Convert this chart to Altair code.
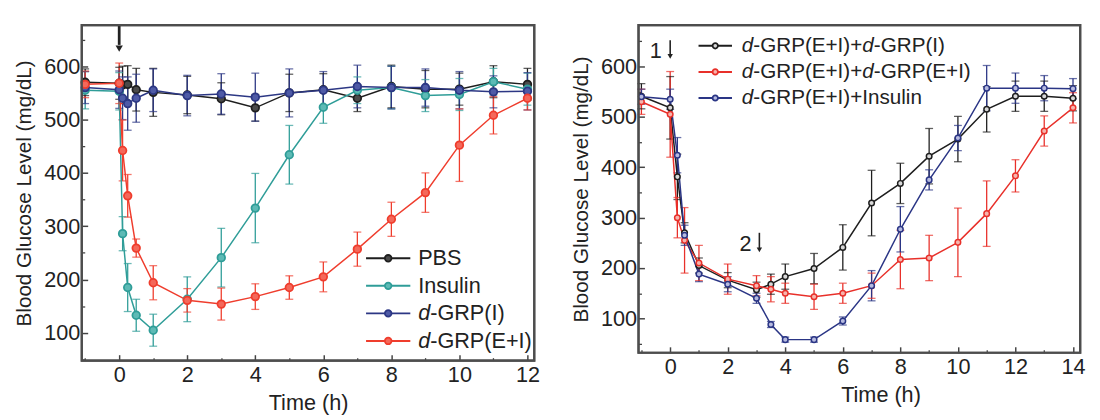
import altair as alt
import pandas as pd

FONT = "Liberation Sans"

# ---------------- Left panel data ----------------
t_left = [-1, 0, 0.1, 0.25, 0.5, 1, 2, 3, 4, 5, 6, 7, 8, 9, 10, 11, 12]
pbs = [570, 568, 565, 566, 556, 551, 546, 539, 522, 550, 556, 540, 562, 557, 557, 571, 566]
pbs_err = [25, 30, 35, 35, 40, 45, 35, 30, 25, 35, 30, 25, 40, 35, 30, 30, 30]
insulin = [555, 553, 286, 185, 133, 105, 163, 241, 334, 434, 523, 555, 560, 545, 547, 571, 557]
insulin_err = [35, 35, 32, 45, 30, 30, 42, 55, 65, 55, 30, 25, 40, 30, 30, 25, 30]
grp_i = [560, 556, 540, 530, 540, 555, 545, 548, 542, 550, 555, 562, 560, 560, 555, 552, 553]
grp_i_err = [30, 35, 40, 50, 45, 40, 38, 38, 45, 45, 35, 40, 40, 35, 35, 30, 35]
grp_ei = [566, 568, 442, 357, 259, 194, 161, 154, 168, 185, 205, 257, 313, 363, 452, 508, 540]
grp_ei_err = [25, 38, 57, 40, 17, 32, 22, 30, 24, 22, 28, 32, 32, 37, 68, 35, 22]

left_names = ["PBS", "Insulin", "d-GRP(I)", "d-GRP(E+I)"]
left_strokes = ["#1e1e1e", "#2f9d98", "#2c3784", "#ef3d2d"]
left_fills = ["#4a4a4a", "#5dbab5", "#4e5aa6", "#f4685a"]

# ---------------- Right panel data ----------------
t_right = [-1, 0, 0.25, 0.5, 1, 2, 3, 3.5, 4, 5, 6, 7, 8, 9, 10, 11, 12, 13, 14]
r_black = [541, 518, 381, 270, 205, 176, 157, 168, 183, 199, 241, 329, 368, 422, 456, 515, 541, 541, 537]
r_black_err = [25, 62, 45, 20, 15, 15, 15, 20, 25, 30, 45, 65, 40, 55, 45, 45, 30, 30, 25]
r_red = [530, 505, 300, 255, 210, 178, 165, 158, 150, 143, 150, 165, 217, 220, 251, 308, 383, 472, 518]
r_red_err = [25, 85, 40, 65, 35, 30, 20, 25, 20, 25, 20, 25, 58, 45, 68, 65, 32, 30, 30]
r_blue = [540, 535, 424, 265, 188, 168, 140, 88, 58, 58, 95, 165, 277, 375, 458, 557, 557, 557, 556]
r_blue_err = [15, 20, 35, 20, 15, 15, 10, 6, 5, 5, 8, 30, 45, 20, 25, 45, 30, 25, 20]

right_names = ["d-GRP(E+I)+d-GRP(I)", "d-GRP(E+I)+d-GRP(E+I)", "d-GRP(E+I)+Insulin"]
right_strokes = ["#1e1e1e", "#e8302a", "#2a3585"]
right_fills = ["#d8d8d8", "#f6b4ad", "#b7bbe0"]

# Legend text pieces (text, italic?)
left_legend = [
    [("PBS", False)],
    [("Insulin", False)],
    [("d", True), ("-GRP(I)", False)],
    [("d", True), ("-GRP(E+I)", False)],
]
right_legend = [
    [("d", True), ("-GRP(E+I)+", False), ("d", True), ("-GRP(I)", False)],
    [("d", True), ("-GRP(E+I)+", False), ("d", True), ("-GRP(E+I)", False)],
    [("d", True), ("-GRP(E+I)+Insulin", False)],
]

ARIAL_W = {"d": 0.556, "-": 0.333, "G": 0.778, "R": 0.722, "P": 0.667, "(": 0.333,
           ")": 0.333, "E": 0.667, "+": 0.584, "I": 0.278, "n": 0.556, "s": 0.5,
           "u": 0.556, "l": 0.222, "i": 0.222, "B": 0.667, "S": 0.667}


def text_width(s, size):
    return sum(ARIAL_W.get(c, 0.556) for c in s) * size


def make_df(t, vals, errs, name):
    return pd.DataFrame({
        "t": t, "v": vals,
        "lo": [a - b for a, b in zip(vals, errs)],
        "hi": [a + b for a, b in zip(vals, errs)],
        "s": name,
    })


left_df = pd.concat([
    make_df(t_left, pbs, pbs_err, left_names[0]),
    make_df(t_left, insulin, insulin_err, left_names[1]),
    make_df(t_left, grp_i, grp_i_err, left_names[2]),
    make_df(t_left, grp_ei, grp_ei_err, left_names[3]),
], ignore_index=True)

right_df = pd.concat([
    make_df(t_right, r_black, r_black_err, right_names[0]),
    make_df(t_right, r_red, r_red_err, right_names[1]),
    make_df(t_right, r_blue, r_blue_err, right_names[2]),
], ignore_index=True)

one = pd.DataFrame({"k": [0]})


def legend_layers(entries, strokes, fills, x0, x1, xtext, y0, dy, fsize, psize):
    layers = []
    for i, (pieces, sc, fc) in enumerate(zip(entries, strokes, fills)):
        y = y0 + dy * i
        layers.append(alt.Chart(one).mark_rule(color=sc, strokeWidth=2).encode(
            x=alt.value(x0), x2=alt.value(x1), y=alt.value(y)))
        layers.append(alt.Chart(one).mark_point(
            shape="circle", filled=True, fill=fc, stroke=sc, strokeWidth=1.8,
            size=psize, opacity=1).encode(x=alt.value((x0 + x1) / 2), y=alt.value(y)))
        xx = xtext
        for txt, ital in pieces:
            layers.append(alt.Chart(one).mark_text(
                text=txt, align="left", baseline="middle", font=FONT,
                fontSize=fsize, fontStyle="italic" if ital else "normal",
                color="#222222").encode(x=alt.value(xx), y=alt.value(y)))
            xx += text_width(txt, fsize)
    return layers


def frame_layer(w, h):
    return alt.Chart(one).mark_rect(
        fill="transparent", stroke="#4d4d4d", strokeWidth=2.2, strokeOpacity=1
    ).encode(x=alt.value(0), x2=alt.value(w), y=alt.value(0), y2=alt.value(h))


def panel(df, names, strokes, fills, xdom, ydom, xmaj, xmin, ymaj, ymin,
          w, h, psize, pstroke, legend, arrows, texts, title_x=None, spacer=False):
    xs = alt.Scale(domain=xdom, nice=False, zero=False)
    ys = alt.Scale(domain=ydom, nice=False, zero=False)
    cs = alt.Scale(domain=names, range=strokes)
    fs = alt.Scale(domain=names, range=fills)
    base = alt.Chart(df)

    xaxis_kw = dict(values=xmaj, title="Time (h)", tickSize=6, offset=-6, domain=False,
                    labelPadding=4, labelFontSize=22, titleFontSize=22, titlePadding=8,
                    tickColor="#444444", tickWidth=1.5, grid=False, labelFont=FONT,
                    titleFont=FONT, titleFontWeight="normal", labelColor="#222222",
                    titleColor="#222222", orient="bottom")
    if title_x is not None:
        xaxis_kw["titleX"] = title_x
    xaxis = alt.Axis(**xaxis_kw)
    yaxis = alt.Axis(values=ymaj, title="Blood Glucose Level (mg/dL)", tickSize=6,
                     offset=-6, domain=False, labelPadding=2, labelFontSize=22,
                     titleFontSize=21, titlePadding=9, tickColor="#444444",
                     tickWidth=1.5, grid=False, labelFont=FONT, titleFont=FONT,
                     titleFontWeight="normal", labelColor="#222222",
                     titleColor="#222222", orient="left")
    xminax = alt.Axis(values=xmin, tickSize=3, offset=-3, domain=False, labels=False,
                      title=None, grid=False, tickColor="#444444", tickWidth=1.3,
                      orient="bottom")
    yminax = alt.Axis(values=ymin, tickSize=3, offset=-3, domain=False, labels=False,
                      title=None, grid=False, tickColor="#444444", tickWidth=1.3,
                      orient="left")

    col = alt.Color("s:N", scale=cs, legend=None)
    xq = alt.X("t:Q", scale=xs, axis=None)

    rules = base.mark_rule(strokeWidth=1.3).encode(
        x=xq, y=alt.Y("lo:Q", scale=ys, axis=None), y2="hi:Q", color=col)
    cap_lo = base.mark_tick(orient="horizontal", size=8, thickness=1.3).encode(
        x=xq, y=alt.Y("lo:Q", scale=ys, axis=None), color=col)
    cap_hi = base.mark_tick(orient="horizontal", size=8, thickness=1.3).encode(
        x=xq, y=alt.Y("hi:Q", scale=ys, axis=None), color=col)
    lines = base.mark_line(strokeWidth=1.5).encode(
        x=alt.X("t:Q", scale=xs, axis=xaxis),
        y=alt.Y("v:Q", scale=ys, axis=yaxis), color=col)
    pts = base.mark_point(shape="circle", filled=True, size=psize, strokeWidth=pstroke,
                          opacity=1).encode(
        x=xq, y=alt.Y("v:Q", scale=ys, axis=None),
        fill=alt.Fill("s:N", scale=fs, legend=None),
        stroke=alt.Stroke("s:N", scale=cs, legend=None))
    minor = base.mark_point(opacity=0).encode(
        x=alt.X("t:Q", scale=xs, axis=xminax),
        y=alt.Y("v:Q", scale=ys, axis=yminax))

    ann = []
    for (ax, ay1, ay2, head, sw, hs) in arrows:
        adf = pd.DataFrame({"t": [ax], "a": [ay1], "b": [ay2], "h": [head]})
        ann.append(alt.Chart(adf).mark_rule(color="#222222", strokeWidth=sw).encode(
            x=alt.X("t:Q", scale=xs, axis=None),
            y=alt.Y("a:Q", scale=ys, axis=None), y2="b:Q"))
        ann.append(alt.Chart(adf).mark_point(shape="triangle-down", filled=True,
                                              color="#222222", size=hs, opacity=1).encode(
            x=alt.X("t:Q", scale=xs, axis=None),
            y=alt.Y("h:Q", scale=ys, axis=None)))
    for (tx, ty, tt) in texts:
        tdf = pd.DataFrame({"t": [tx], "v": [ty], "lab": [tt]})
        ann.append(alt.Chart(tdf).mark_text(font=FONT, fontSize=22, color="#222222",
                                            align="center", baseline="middle").encode(
            x=alt.X("t:Q", scale=xs, axis=None),
            y=alt.Y("v:Q", scale=ys, axis=None), text="lab:N"))

    layers = [rules, cap_lo, cap_hi, lines, pts, minor] + ann + legend + [frame_layer(w, h)]
    props = dict(width=w, height=h)
    if spacer:
        props["title"] = alt.TitleParams(" ", fontSize=1, offset=5)
    return alt.layer(*layers).resolve_axis(x="independent", y="independent").properties(**props)


left_leg = legend_layers(left_legend, left_strokes, left_fills, 289, 334, 342, 237, 28, 22, 45)
right_leg = legend_layers(right_legend, right_strokes, right_fills, 61, 95, 105, 21, 26.5, 21, 30)

left = panel(left_df, left_names, left_strokes, left_fills,
             [-1.1, 12.2], [48, 677],
             [0, 2, 4, 6, 8, 10, 12], [-1, 1, 3, 5, 7, 9, 11],
             [100, 200, 300, 400, 500, 600], [50, 150, 250, 350, 450, 550, 650],
             460, 341, 60, 1.8, left_leg,
             arrows=[(0, 677, 640, 633, 2.8, 55)], texts=[])

right = panel(right_df, right_names, right_strokes, right_fills,
              [-1.1, 14.25], [32, 682],
              [0, 2, 4, 6, 8, 10, 12, 14], [-1, 1, 3, 5, 7, 9, 11, 13],
              [100, 200, 300, 400, 500, 600], [50, 150, 250, 350, 450, 550, 650],
              449, 333, 32, 1.5, right_leg,
              arrows=[(0, 652, 620, 620, 1.6, 30), (3.1, 270, 236, 236, 1.6, 30)],
              texts=[(-0.5, 631, "1"), (2.62, 248, "2")],
              title_x=246, spacer=True)

chart = alt.hconcat(left, right, spacing=29).resolve_scale(
    color="independent", fill="independent", stroke="independent",
    x="independent", y="independent"
).configure_view(stroke="#4d4d4d", strokeWidth=2.2).properties(background="white")

chart.save("out.html", embed_options={"renderer": "svg", "actions": False})
